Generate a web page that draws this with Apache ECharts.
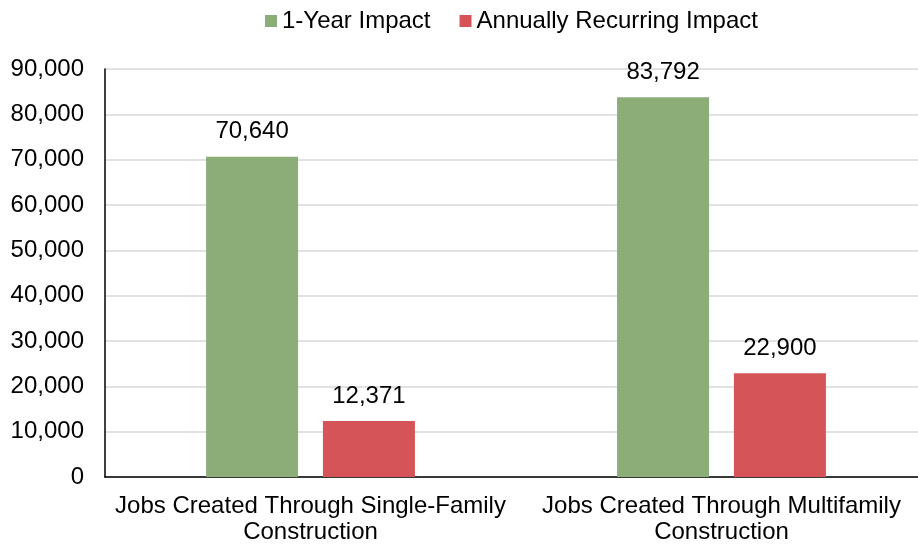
<!DOCTYPE html>
<html><head><meta charset="utf-8">
<script src="https://cdn.jsdelivr.net/npm/echarts@6/dist/echarts.min.js"></script>
<style>html,body{margin:0;padding:0;background:#fff;overflow:hidden}#c{width:927px;height:545px}</style>
</head><body><div id="c"></div>
<script>
const categories = ['Jobs Created Through Single-Family\nConstruction', 'Jobs Created Through Multifamily\nConstruction'];
const oneYear = [70640, 83792];
const recurring = [12371, 22900];
const seriesNames = ['1-Year Impact', 'Annually Recurring Impact'];

const chart = echarts.init(document.getElementById('c'));
const font = 'Liberation Sans, Arial, sans-serif';
const fmt = v => v.toLocaleString('en-US');
const lbl = {show:true, position:'top', distance:13, color:'#000', fontSize:24, fontFamily:font, formatter:p=>fmt(p.value)};
chart.setOption({
  animation:false,
  legend:{top:4, left:260, itemWidth:12, itemHeight:12, itemGap:29, icon:'rect',
    textStyle:{fontSize:24, fontFamily:font, color:'#000'}, data:seriesNames},
  grid:{left:105, top:69, right:0, bottom:68, containLabel:false},
  xAxis:{type:'category', data:categories,
    axisLine:{lineStyle:{color:'#000', width:1.5}}, axisTick:{show:false},
    axisLabel:{fontSize:24, fontFamily:font, color:'#000', margin:16, lineHeight:26, interval:0}},
  yAxis:{type:'value', min:0, max:90000, interval:10000,
    axisLine:{show:true, lineStyle:{color:'#000', width:1.5}}, axisTick:{show:false},
    splitLine:{lineStyle:{color:'#d9d9d9', width:1.5}},
    axisLabel:{fontSize:24, fontFamily:font, color:'#000', margin:21, formatter:v=>fmt(v)}},
  series:[
    {name:seriesNames[0], type:'bar', data:oneYear, barWidth:92, barGap:'27%', itemStyle:{color:'#8cad78'}, label:lbl},
    {name:seriesNames[1], type:'bar', data:recurring, barWidth:92, itemStyle:{color:'#d55457'}, label:lbl}
  ]
});
</script></body></html>
